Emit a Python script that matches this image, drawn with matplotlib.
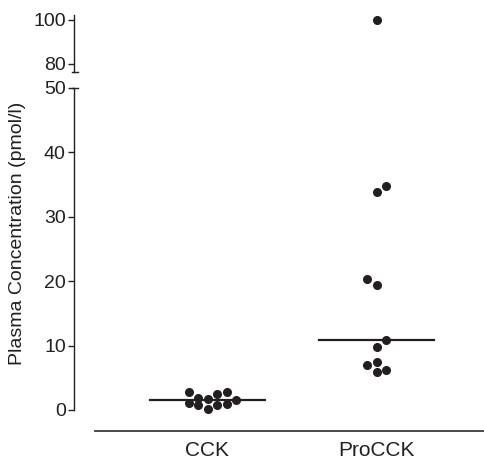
import matplotlib
matplotlib.use("Agg")
import matplotlib.pyplot as plt
from matplotlib.lines import Line2D
import numpy as np

plt.rcParams['font.family'] = ['Liberation Sans', 'DejaVu Sans']

categories = ["CCK", "ProCCK"]
cck_values = [2.8, 1.9, 1.7, 2.5, 2.8, 1.55, 1.1, 0.8, 0.15, 0.8, 0.9]
cck_columns = [-2, -1, 0, 1, 2, 3, -2, -1, 0, 1, 2]
procck_values = [34.8, 33.9, 20.3, 19.4, 10.9, 9.8, 7.5, 7.0, 6.2, 5.9, 100]
procck_columns = [1, 0, -1, 0, 1, 0, 0, -1, 1, 0, 0]
medians = [1.55, 10.9]
lower_ticks = [0, 10, 20, 30, 40, 50]
upper_ticks = [80, 100]

INK = "#231f20"
W, H = 484, 462
fig = plt.figure(figsize=(W / 100, H / 100), dpi=100)

def fx(px):
    return px / W

def fy(py):
    return 1 - py / H

left = fx(73.5)
width = 1 - left
xlim = ((73.5 - 207.5) / 169.0, (484 - 207.5) / 169.0)
col_step = 9.5 / 169.0

ax = fig.add_axes([left, fy(431), width, fy(88) - fy(431)])
axu = fig.add_axes([left, fy(72), width, fy(15) - fy(72)])

ax.set_ylim(-(431 - 410) / 6.44, 50)
axu.set_ylim(80 - 8 / 2.2, 100 + 5 / 2.2)
for a in (ax, axu):
    a.set_xlim(*xlim)
    a.patch.set_alpha(0)
    for s in ("top", "right"):
        a.spines[s].set_visible(False)
    a.spines["left"].set_color(INK)
    a.spines["left"].set_linewidth(1.0)
    a.tick_params(axis="y", direction="out", length=4, width=1.0, colors=INK,
                  labelsize=14, pad=1.5)

ax.spines["left"].set_bounds(0, 50)
ax.spines["bottom"].set_bounds((95 - 207.5) / 169.0, xlim[1])
ax.spines["bottom"].set_color("#3a3a3a")
ax.spines["bottom"].set_linewidth(1.3)
ax.set_yticks(lower_ticks)
ax.set_xticks([0, 1])
ax.set_xticklabels(categories, fontsize=15, color=INK)
ax.tick_params(axis="x", length=0, pad=7)

axu.spines["bottom"].set_visible(False)
axu.set_xticks([])
axu.set_yticks(upper_ticks)

# points
groups = [(cck_values, cck_columns), (procck_values, procck_columns)]
for gi, (vals, cols) in enumerate(groups):
    for v, c in zip(vals, cols):
        target = axu if v > 50 else ax
        target.plot(gi + c * col_step, v, "o", color=INK, ms=5.5, mec=INK,
                    clip_on=False, zorder=3)
    half = 57.5 / 169.0
    ax.plot([gi - half, gi + half], [medians[gi], medians[gi]], color=INK, lw=1.6, zorder=2)

# axis break caps
for yy in (71.5, 88):
    fig.add_artist(Line2D([fx(71.5), fx(78)], [fy(yy), fy(yy)], color=INK, lw=1.0))

fig.text(fx(18), fy(233), "Plasma Concentration (pmol/l)", rotation=90,
         ha="center", va="center", fontsize=14, color=INK)

fig.savefig("out.png", dpi=100)
